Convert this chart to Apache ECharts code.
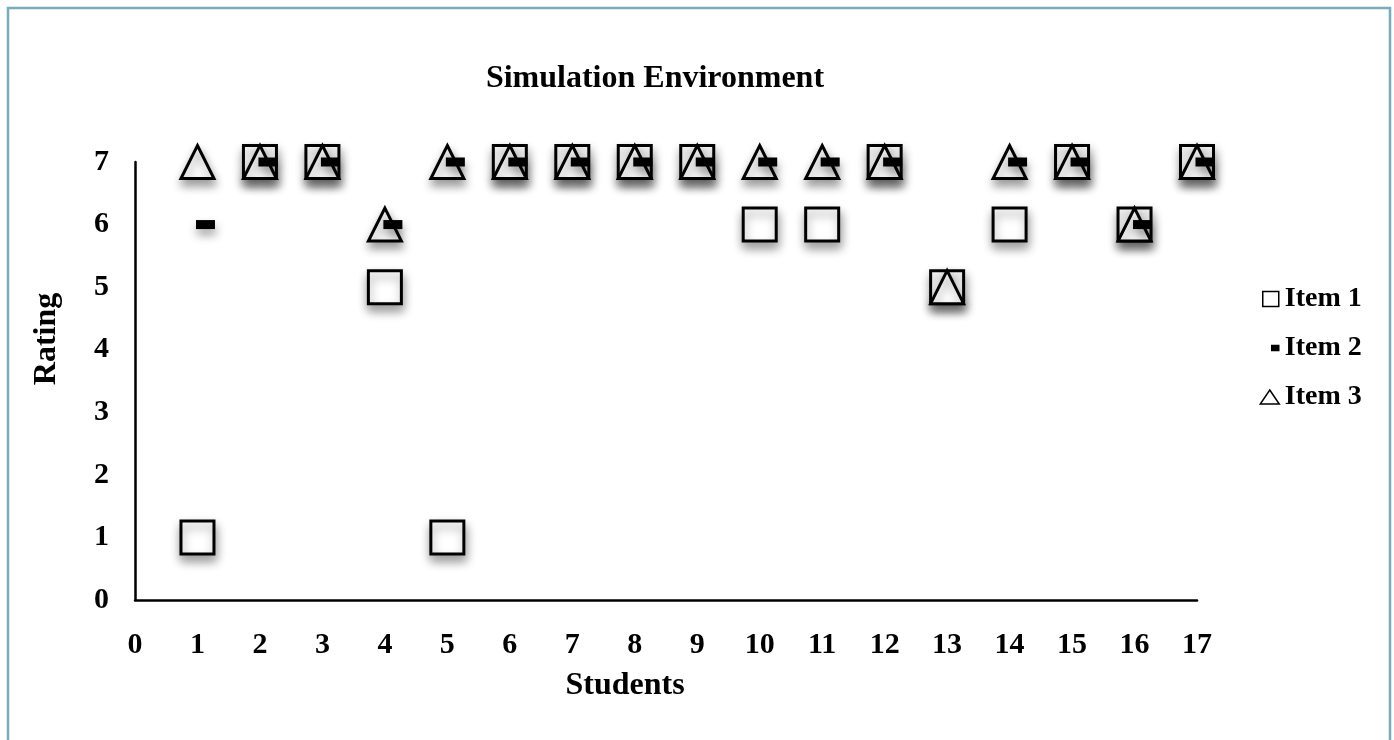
<!DOCTYPE html>
<html>
<head>
<meta charset="utf-8">
<script src="https://cdn.jsdelivr.net/npm/echarts@6/dist/echarts.min.js"></script>
<style>
html,body{margin:0;padding:0;background:#fff;}
#chart{width:1394px;height:740px;}
</style>
</head>
<body>
<div id="chart"></div>
<script>
var students = [1,2,3,4,5,6,7,8,9,10,11,12,13,14,15,16,17];
var item1 = [1,7,7,5,1,7,7,7,7,6,6,7,5,6,7,6,7];
var item2 = [6,7,7,6,7,7,7,7,7,7,7,7,null,7,7,6,7];
var item3 = [7,7,7,6,7,7,7,7,7,7,7,7,5,7,7,6,7];
var seriesNames = ['Item 1','Item 2','Item 3'];

function pairs(vals){
  return students.map(function(s,i){ return [s, vals[i]]; }).filter(function(p){return p[1]!=null;});
}

var font = 'Liberation Serif';
var shadow = {shadowColor:'rgba(0,0,0,0.38)', shadowBlur:10, shadowOffsetX:1, shadowOffsetY:6, opacity:1};

var chart = echarts.init(document.getElementById('chart'));
chart.setOption({
  animation:false,
  backgroundColor:'#fff',
  title:{
    text:'Simulation Environment',
    left:650, top:58, textAlign:'center',
    textStyle:{fontFamily:font, fontWeight:'bold', fontSize:32, color:'#000'}
  },
  graphic:[{
    type:'rect', shape:{x:8,y:8,width:1382,height:800},
    style:{fill:'none', stroke:'#74adbb', lineWidth:2.5}, silent:true
  }],
  legend:{
    orient:'vertical', left:1254, top:280,
    itemWidth:20, itemHeight:16, itemGap:21, selectedMode:false,
    textStyle:{fontFamily:font, fontWeight:'bold', fontSize:28, color:'#000', lineHeight:28},
    itemStyle:{borderWidth:1.5, shadowBlur:0, shadowColor:'transparent', shadowOffsetX:0, shadowOffsetY:0},
    data:[
      {name:seriesNames[0], icon:'path://M0,0M20,16M3,0.5h16v15h-16z'},
      {name:seriesNames[1], icon:'path://M0,0M20,16M12,5.5h7v5h-7z'},
      {name:seriesNames[2], icon:'path://M0,0M20,16M10,1L19.5,15H0.5Z'}
    ]
  },
  grid:{left:135, right:197, top:162, bottom:140},
  xAxis:{
    type:'value', min:0, max:17, interval:1,
    name:'Students', nameLocation:'middle', nameGap:70,
    nameTextStyle:{fontFamily:font, fontWeight:'bold', fontSize:32, color:'#000', padding:[0,82,0,0]},
    axisLine:{lineStyle:{color:'#000', width:2.5}},
    axisTick:{show:false}, splitLine:{show:false},
    axisLabel:{fontFamily:font, fontWeight:'bold', fontSize:30, color:'#000', margin:30}
  },
  yAxis:{
    type:'value', min:0, max:7, interval:1,
    name:'Rating', nameLocation:'middle', nameGap:72,
    nameTextStyle:{fontFamily:font, fontWeight:'bold', fontSize:32, color:'#000', padding:[0,0,0,84]},
    axisLine:{show:true, lineStyle:{color:'#000', width:2.5}},
    axisTick:{show:false}, splitLine:{show:false},
    axisLabel:{fontFamily:font, fontWeight:'bold', fontSize:30, color:'#000', margin:26}
  },
  series:[
    {
      name:seriesNames[0], type:'scatter', z:2,
      symbol:'rect', symbolSize:33,
      itemStyle:Object.assign({color:'#fff', borderColor:'#000', borderWidth:3}, shadow),
      data:pairs(item1)
    },
    {
      name:seriesNames[1], type:'scatter', z:4,
      symbol:'rect', symbolSize:[19,9], symbolOffset:[8,0],
      itemStyle:Object.assign({color:'#000', borderColor:'#000', borderWidth:0}, shadow),
      data:pairs(item2)
    },
    {
      name:seriesNames[2], type:'scatter', z:3,
      symbol:'triangle', symbolSize:33,
      itemStyle:Object.assign({color:'#fff', borderColor:'#000', borderWidth:3}, shadow),
      data:pairs(item3)
    }
  ]
});
</script>
</body>
</html>
